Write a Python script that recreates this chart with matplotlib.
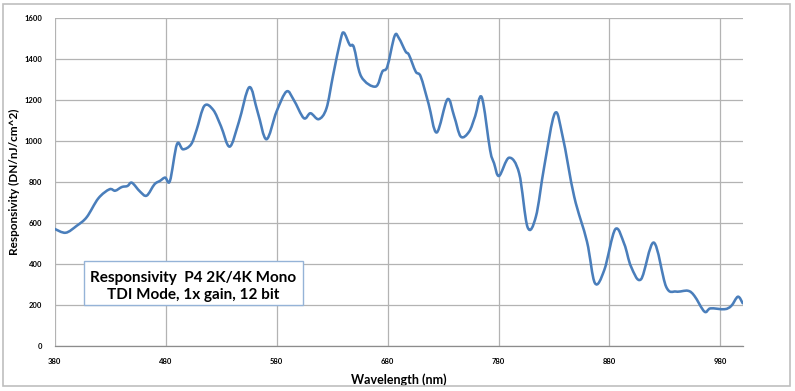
import matplotlib.pyplot as plt
from matplotlib.patches import Rectangle, PathPatch
from matplotlib.path import Path

# wavelength (nm) and responsivity (DN/nJ/cm^2)
wavelength = [380, 390, 400, 409, 419.5, 429.5, 434.6, 440.6, 445.7, 449.7,
              457, 463, 470, 475, 479.7, 484, 490.3, 495.7, 503, 508,
              515, 523, 530, 537.8, 546, 555.5, 563, 570.9, 580, 589,
              595.5, 604.6, 610.6, 618, 625, 631, 637.7, 640.7, 646, 649.7,
              656.3, 669.3, 675.3, 679.8, 686.4, 690.3, 696.3, 699.3, 705.4, 709.9,
              717, 724.3, 734, 740, 746, 753.5, 759, 764.9, 772.4, 776,
              780.5, 789.5, 798.6, 806.2, 813.7, 821.2, 830.8, 837.8, 848.2, 859.7,
              866.9, 875.3, 885.2, 893.3, 899.4, 908.4, 919.9, 931, 940, 950.6,
              956.5, 965.6, 971, 983.6, 989.7, 995.7, 1000]
responsivity = [570, 551, 585, 627, 719, 763, 756, 774, 779, 795,
                752, 732, 787, 804, 820, 804, 983, 958, 982, 1053,
                1170, 1150, 1070, 971, 1090, 1261, 1140, 1007, 1142, 1240,
                1199, 1110, 1134, 1105, 1158, 1320, 1492, 1527, 1467, 1456,
                1313, 1264, 1337, 1361, 1511, 1500, 1435, 1419, 1337, 1313,
                1180, 1040, 1202, 1120, 1020, 1044, 1120, 1212, 955, 890,
                828, 917, 841, 578, 630, 874, 1134, 1020, 727, 508,
                305, 369, 568, 496, 386, 324, 503, 288, 264, 268,
                243, 166, 182, 178, 194, 239, 207]

xticks = [380, 480, 580, 680, 780, 880, 980]
yticks = list(range(0, 1601, 200))

plt.rcParams['font.family'] = ['Lato', 'DejaVu Sans']

fig = plt.figure(figsize=(7.95, 3.91), dpi=100)
ax = fig.add_axes([0.0686, 0.1159, 0.8656, 0.8388])

# smoothed line like Excel: cubic Bezier segments through the data points
pts = list(zip(wavelength, responsivity))
verts = [pts[0]]
codes = [Path.MOVETO]
for i in range(len(pts) - 1):
    p0 = pts[max(i - 1, 0)]
    p1 = pts[i]
    p2 = pts[i + 1]
    p3 = pts[min(i + 2, len(pts) - 1)]
    c1 = (p1[0] + (p2[0] - p0[0]) / 6, p1[1] + (p2[1] - p0[1]) / 6)
    c2 = (p2[0] - (p3[0] - p1[0]) / 6, p2[1] - (p3[1] - p1[1]) / 6)
    verts += [c1, c2, p2]
    codes += [Path.CURVE4] * 3
ax.add_patch(PathPatch(Path(verts, codes), facecolor='none', edgecolor='#4a7ebb',
                       linewidth=1.85, joinstyle='round', capstyle='round',
                       zorder=3, clip_on=True))

ax.set_xlim(380, 1000)
ax.set_ylim(0, 1600)
ax.set_xticks(xticks)
ax.set_yticks(yticks)
ax.tick_params(length=0, labelsize=5.5, pad=9)
for lbl in ax.get_xticklabels() + ax.get_yticklabels():
    lbl.set_fontweight('bold')

ax.grid(True, color='#b3b3b3', linewidth=0.9)
ax.set_axisbelow(True)
for s in ['top', 'right', 'left']:
    ax.spines[s].set_visible(False)
ax.spines['bottom'].set_color('#8c8c8c')
ax.spines['bottom'].set_linewidth(0.9)

ax.set_xlabel('Wavelength (nm)', fontsize=9, fontweight='bold', labelpad=6)
ax.set_ylabel('Responsivity (DN/nJ/cm^2)', fontsize=8.5, fontweight='bold', labelpad=3)

# annotation box
ax.add_patch(Rectangle((0.0429, 0.124), 0.318, 0.134, transform=ax.transAxes,
                       facecolor='white', edgecolor='#95b3d7', linewidth=1.0,
                       zorder=4))
ax.text(0.202, 0.2076, 'Responsivity  P4 2K/4K Mono', transform=ax.transAxes,
        ha='center', va='center', fontsize=11, fontweight='bold', zorder=5)
ax.text(0.202, 0.1546, 'TDI Mode, 1x gain, 12 bit', transform=ax.transAxes,
        ha='center', va='center', fontsize=11, fontweight='bold', zorder=5)

fig.patches.append(Rectangle((3 / 795, 5 / 391), 787 / 795, 382 / 391,
                             transform=fig.transFigure, fill=False,
                             edgecolor='#bfbfbf', linewidth=1.2))

fig.savefig('out.png', dpi=100)
